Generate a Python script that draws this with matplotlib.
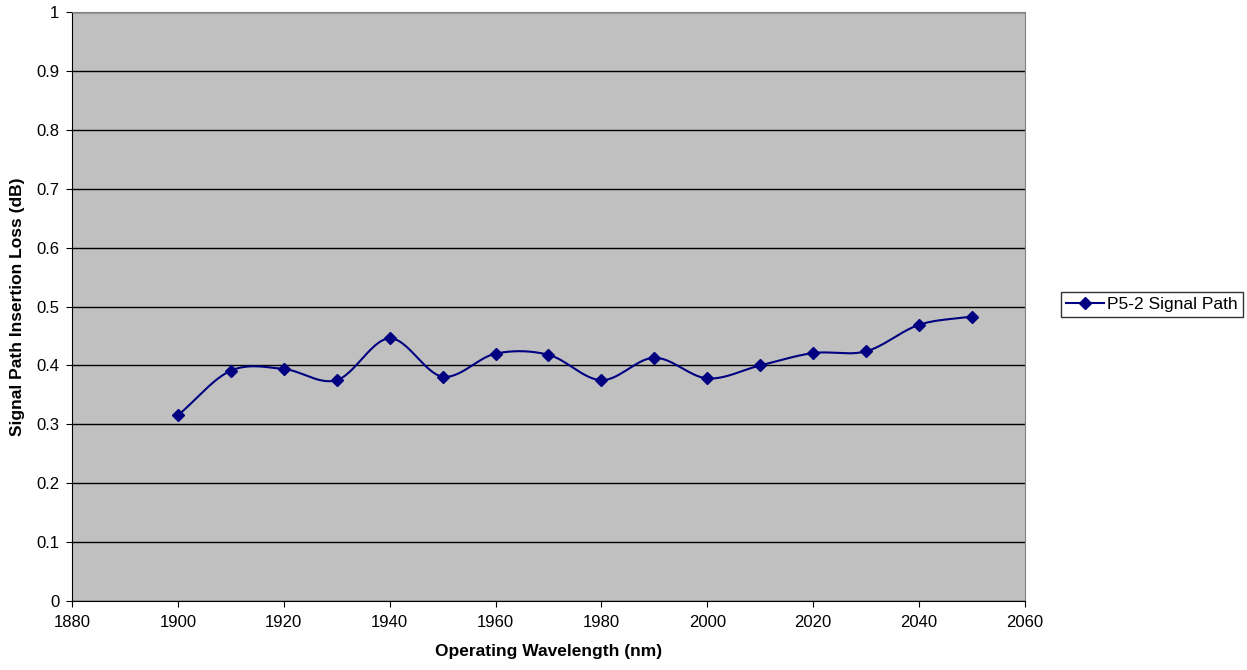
import matplotlib
matplotlib.use('Agg')
import matplotlib.pyplot as plt
import numpy as np

plt.rcParams['font.family'] = ['Liberation Sans', 'DejaVu Sans']

wavelength = [1900, 1910, 1920, 1930, 1940, 1950, 1960, 1970,
              1980, 1990, 2000, 2010, 2020, 2030, 2040, 2050]
loss = [0.315, 0.391, 0.394, 0.375, 0.446, 0.381, 0.420, 0.418,
        0.375, 0.413, 0.378, 0.400, 0.421, 0.424, 0.469, 0.483]
series_name = 'P5-2 Signal Path'


def smooth(xs, ys, n=30):
    # Excel-style smoothed line (Catmull-Rom through the points)
    xs = np.asarray(xs, float)
    ys = np.asarray(ys, float)
    px = np.concatenate([[2 * xs[0] - xs[1]], xs, [2 * xs[-1] - xs[-2]]])
    py = np.concatenate([[2 * ys[0] - ys[1]], ys, [2 * ys[-1] - ys[-2]]])
    out_x, out_y = [], []
    t = np.linspace(0, 1, n)
    for i in range(1, len(px) - 2):
        p0, p1, p2, p3 = [np.array([px[j], py[j]]) for j in range(i - 1, i + 3)]
        c1 = p1 + (p2 - p0) / 6
        c2 = p2 - (p3 - p1) / 6
        b = ((1 - t) ** 3)[:, None] * p1 + (3 * (1 - t) ** 2 * t)[:, None] * c1 \
            + (3 * (1 - t) * t ** 2)[:, None] * c2 + (t ** 3)[:, None] * p2
        out_x.extend(b[:, 0])
        out_y.extend(b[:, 1])
    return out_x, out_y


fig = plt.figure(figsize=(12.47, 6.70), dpi=100)
ax = fig.add_axes([0.0577, 0.103, 0.7643, 0.879])
ax.set_facecolor('#C0C0C0')

sx, sy = smooth(wavelength, loss)
ax.plot(sx, sy, color='#000080', linewidth=1.5, zorder=3)
ax.plot(wavelength, loss, linestyle='none', marker='D', markersize=6,
        color='#000080', zorder=4)

#legend proxy
ax.plot([], [], color='#000080', linewidth=1.5, marker='D', markersize=6,
        label=series_name)

ax.set_xlim(1880, 2060)
ax.set_ylim(0, 1)
ax.set_xticks(np.arange(1880, 2061, 20))
ax.set_yticks(np.arange(0, 1.01, 0.1))
ax.set_yticklabels(['0'] + ['%.1f' % v for v in np.arange(0.1, 0.95, 0.1)] + ['1'])
ax.yaxis.grid(True, color='black', linewidth=1)
ax.set_axisbelow(True)
ax.tick_params(direction='out', length=4, labelsize=12, colors='black')
ax.tick_params(axis='x', pad=6)
ax.tick_params(axis='y', pad=5)

for s in ['top', 'right']:
    ax.spines[s].set_color('#808080')
for s in ['left', 'bottom']:
    ax.spines[s].set_color('black')

ax.set_xlabel('Operating Wavelength (nm)', fontsize=12.5, fontweight='bold', labelpad=10)
ax.set_ylabel('Signal Path Insertion Loss (dB)', fontsize=12.5, fontweight='bold', labelpad=8)

leg = fig.legend(loc='center left', bbox_to_anchor=(0.8508, 0.5458), fontsize=12.5,
                 frameon=True, fancybox=False, borderpad=0.3, handlelength=2.2,
                 handletextpad=0.15, borderaxespad=0)
leg.get_frame().set_edgecolor('black')
leg.get_frame().set_linewidth(1)

fig.savefig('out.png', dpi=100)
